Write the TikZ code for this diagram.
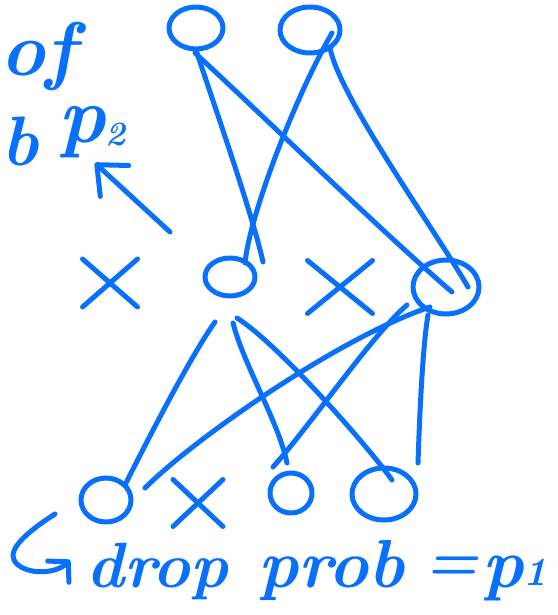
\documentclass[tikz,border=0pt]{standalone}
\usetikzlibrary{shapes.geometric,shapes.misc,arrows.meta,calc}
\definecolor{inkblue}{RGB}{8,112,250}
\begin{document}
\begin{tikzpicture}[x=1pt,y=-1pt,
  ink/.style={draw=inkblue, line width=5pt, line cap=round, line join=round},
  unit/.style={ink, ellipse, inner sep=0pt},
  dropped/.style={ink, cross out, inner sep=0pt},
  edge/.style={ink},
  hand/.style={text=inkblue, font=\fontsize{60}{60}\selectfont\bfseries\itshape, inner sep=0pt}]
\useasboundingbox (0,0) rectangle (557,615);
% units
\node[unit, minimum width=54pt, minimum height=42pt] (T1) at (196,28) {};
\node[unit, minimum width=60pt, minimum height=46pt] (T2) at (310,30) {};
\node[dropped, minimum width=50pt, minimum height=43pt] (X1) at (110,283) {};
\node[unit, minimum width=50pt, minimum height=38pt] (M1) at (230,277) {};
\node[dropped, minimum width=60pt, minimum height=48pt] (X2) at (340,287) {};
\node[unit, minimum width=66pt, minimum height=54pt] (M2) at (446,287) {};
\node[unit, minimum width=50pt, minimum height=44pt] (B1) at (106,500) {};
\node[dropped, minimum width=45pt, minimum height=42pt] (X3) at (198,503) {};
\node[unit, minimum width=42pt, minimum height=40pt] (B2) at (291,493) {};
\node[unit, minimum width=64pt, minimum height=52pt] (B3) at (384,494) {};
% upper connections
\draw[edge] ($(T1)+(1,25)$) .. controls +(25,75) and +(-10,-45) .. ($(M1)+(33,-15)$);
\draw[edge] ($(T1)+(-1,25)$) .. controls +(60,55) and +(-70,-60) .. ($(M2)+(6,5)$);
\draw[edge] ($(T2)+(22,3)$) .. controls +(-35,60) and +(5,-50) .. ($(M1)+(15,-14)$);
\draw[edge] ($(T2)+(20,18)$) .. controls +(10,50) and +(-35,-60) .. ($(M2)+(22,0)$);
% lower connections
\draw[edge] ($(M1)+(-15,45)$) .. controls +(-25,35) and +(20,-40) .. ($(B1)+(19,-15)$);
\draw[edge] ($(M1)+(3,46)$) .. controls +(10,40) and +(-8,-40) .. ($(B2)+(-4,-30)$);
\draw[edge] ($(M1)+(7,41)$) .. controls +(40,25) and +(-25,-35) .. ($(B3)+(8,-14)$);
\draw[edge] ($(M2)+(-16,20)$) .. controls +(-90,30) and +(50,-50) .. ($(B1)+(39,-12)$);
\draw[edge] ($(M2)+(-39,18)$) .. controls +(-35,30) and +(40,-45) .. ($(B2)+(-18,-26)$);
\draw[edge] ($(M2)+(-18,28)$) .. controls +(-5,30) and +(2,-60) .. ($(B3)+(34,-31)$);
% texts
\node[hand, anchor=base west, font=\fontsize{76}{76}\selectfont\bfseries\itshape] (of) at (0,76) {of};
\node[hand, anchor=base west, font=\fontsize{70}{70}\selectfont\bfseries\itshape] (pb) at (1,165) {b};
\node[hand, anchor=base west, font=\fontsize{80}{80}\selectfont\bfseries\itshape] (p2) at (58,142) {p\raisebox{-3pt}{\fontsize{34}{34}\selectfont 2}};
\node[hand, anchor=base west, font=\fontsize{64}{64}\selectfont\bfseries\itshape] (drop) at (86,587) {drop};
\node[hand, anchor=base west, font=\fontsize{68}{68}\selectfont\bfseries\itshape] (prob) at (258,587) {prob};
\node[hand, anchor=base] (eq) at (452,580) {=};
\node[hand, anchor=base west, font=\fontsize{70}{70}\selectfont\bfseries\itshape] (p1) at (482,587) {p\raisebox{2pt}{\fontsize{40}{40}\selectfont 1}};
% arrows
\coordinate (arrTail) at (170,232);
\coordinate (arrTip) at (95,163);
\draw[edge, -{Straight Barb[round, length=24pt, width=42pt]}] (arrTail) -- (arrTip);
\coordinate (hookS) at (55,514);
\coordinate (hookE) at (70,560);
\draw[edge, -{Straight Barb[round, length=14pt, width=30pt]}] (hookS) .. controls (30,530) and (8,548) .. (14,560) .. controls (22,575) and (55,575) .. (hookE);
\end{tikzpicture}
\end{document}
